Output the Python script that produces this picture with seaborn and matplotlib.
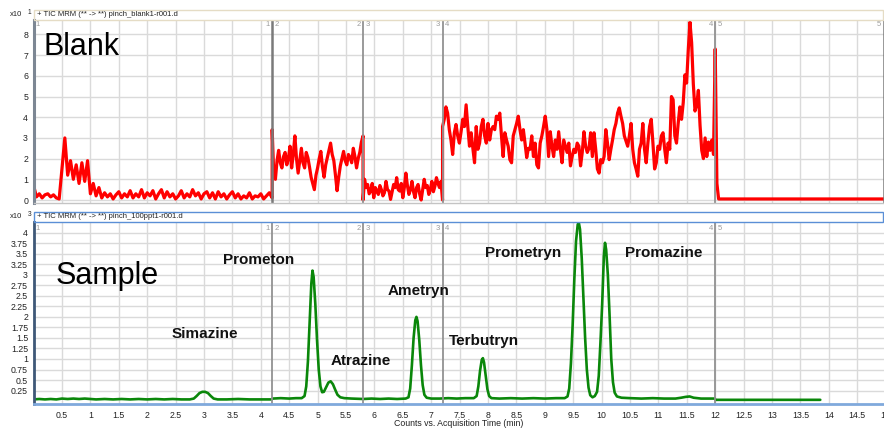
import numpy as np
import pandas as pd
import matplotlib
matplotlib.use("Agg")
import matplotlib.pyplot as plt
import seaborn as sns
from matplotlib.patches import Rectangle
from matplotlib.transforms import blended_transform_factory

# ---------------- data ----------------
# time-segment boundaries of the MRM method (min)
segment_edges = [0.0, 4.2, 5.8, 7.2, 12.0]

# blank injection TIC (x10^1 counts), one list per acquisition segment
blank_seg1 = [0.7, 0.15, 0.3, 0.1, 0.25, 0.3, 0.15, 0.25, 0.1, 0.05,
              1.5, 3.0, 1.2, 1.9, 1.0, 1.7, 0.8, 1.8, 0.9, 1.9,
              0.3, 0.8, 0.2, 0.6, 0.1, 0.35, 0.15, 0.3, 0.05, 0.25,
              0.4, 0.1, 0.3, 0.15, 0.45, 0.1, 0.3, 0.15, 0.5, 0.1,
              0.35, 0.2, 0.45, 0.05, 0.3, 0.5, 0.1, 0.4, 0.15, 0.3,
              0.05, 0.2, 0.45, 0.1, 0.3, 0.15, 0.5, 0.2, 0.35, 0.05,
              0.3, 0.4, 0.1, 0.35, 0.05, 0.4, 0.15, 0.3, 0.05, 0.25,
              0.4, 0.1, 0.3, 0.05, 0.2, 0.1, 0.35, 0.05, 0.2, 0.15,
              0.3, 0.05, 0.2, 0.35, 0.1]
blank_seg2 = [3.4, 1.2, 1.0, 1.9, 2.4, 1.8, 1.55, 2.1, 2.3, 1.7,
              2.0, 2.6, 1.55, 2.2, 3.1, 2.0, 1.3, 1.9, 2.5, 1.8,
              1.55, 2.3, 2.05, 1.6, 1.1, 0.8, 0.5, 1.2, 1.55, 2.0,
              2.35, 1.6, 1.1, 1.7, 2.05, 2.4, 2.75, 2.2, 1.9, 1.2,
              0.45, 1.1, 1.65, 2.0, 2.35, 1.9, 1.7, 2.2, 2.05, 1.8,
              2.5, 2.1, 1.55, 2.0, 2.3, 2.8, 3.1]
blank_seg3 = [0.0, 1.0, 0.6, 0.75, 0.3, 0.43, 0.8, 0.11, 0.6, 0.45,
              0.27, 0.7, 0.5, 0.2, 0.35, 0.9, 0.5, 0.43, 0.03, 0.4,
              0.75, 0.6, 1.08, 0.5, 0.43, 0.8, 0.11, 0.6, 1.3, 0.7,
              0.27, 0.5, 0.9, 0.4, 0.11, 0.6, 0.75, 0.3, 0.0, 0.5,
              1.0, 0.6, 0.7, 0.27, 0.5, 0.9, 0.4, 0.67, 1.08, 0.8,
              0.6, 0.9, 0.0]
blank_seg4 = [3.55, 3.9, 4.5, 4.2, 3.4, 2.9, 2.2, 3.25, 3.65, 3.1,
              2.75, 3.3, 3.9, 3.55, 4.6, 3.55, 2.6, 3.25, 2.5, 1.8,
              3.55, 2.45, 2.75, 3.55, 3.9, 3.1, 2.75, 3.7, 2.9, 3.4,
              3.55, 3.4, 4.05, 3.9, 4.2, 3.1, 2.1, 3.25, 2.9, 2.6,
              1.95, 1.8, 3.1, 3.4, 3.7, 4.05, 3.4, 2.9, 3.4, 2.75,
              2.05, 2.5, 2.45, 3.1, 2.1, 2.75, 1.7, 1.55, 2.75, 3.1,
              3.55, 4.05, 3.4, 2.1, 3.3, 2.6, 2.1, 2.9, 2.45, 3.3,
              2.45, 1.8, 2.9, 2.6, 2.3, 2.75, 1.65, 2.1, 2.45, 2.3,
              2.75, 2.6, 1.65, 2.3, 3.3, 2.6, 2.3, 2.5, 3.25, 2.1,
              3.25, 2.45, 1.5, 1.3, 1.95, 1.8, 2.1, 3.4, 2.75, 1.95,
              2.45, 2.9, 3.4, 3.7, 4.2, 4.45, 4.05, 3.7, 3.1, 2.85,
              2.6, 3.1, 3.7, 2.45, 1.8, 1.5, 1.15, 2.45, 2.75, 3.7,
              2.45, 1.8, 2.75, 3.55, 3.9, 2.75, 1.5, 1.8, 2.6, 2.45,
              3.1, 3.25, 2.45, 1.8, 2.75, 2.45, 5.0, 4.85, 3.1, 2.75,
              3.7, 4.5, 3.9, 4.7, 6.05, 5.65, 7.25, 8.6, 7.6, 5.6,
              4.3, 4.6, 5.3, 3.6, 2.4, 2.0, 3.0, 2.1, 2.8, 2.4,
              2.9, 2.2, 7.3]
blank_tail_time = [12.03, 12.06, 15.0]
blank_tail = [0.8, 0.05, 0.05]

# 100 ppt standard TIC (x10^3 counts)
sample_time = [0.00, 0.10, 0.20, 0.30, 0.40, 0.50, 0.60, 0.70, 0.80, 0.90,
               1.00, 1.10, 1.25, 1.40, 1.55, 1.70, 1.85, 2.00, 2.15, 2.30,
               2.45, 2.60, 2.75, 2.82, 2.87, 2.92, 2.97, 3.02, 3.07, 3.12,
               3.17, 3.24, 3.40, 3.60, 3.80, 4.00, 4.19, 4.21, 4.35, 4.50,
               4.62, 4.72, 4.77, 4.80, 4.83, 4.86, 4.89, 4.91, 4.93, 4.96,
               4.99, 5.02, 5.05, 5.08, 5.11, 5.15, 5.19, 5.23, 5.27, 5.31,
               5.35, 5.40, 5.47, 5.60, 5.80, 5.95, 6.10, 6.25, 6.40, 6.55,
               6.60, 6.63, 6.66, 6.69, 6.72, 6.74, 6.76, 6.79, 6.82, 6.85,
               6.88, 6.92, 7.00, 7.15, 7.30, 7.45, 7.60, 7.75, 7.80, 7.83,
               7.86, 7.89, 7.91, 7.93, 7.96, 7.99, 8.02, 8.06, 8.20, 8.40,
               8.60, 8.80, 9.00, 9.20, 9.35, 9.40, 9.43, 9.46, 9.49, 9.52,
               9.55, 9.58, 9.60, 9.62, 9.65, 9.68, 9.71, 9.74, 9.77, 9.80,
               9.84, 9.88, 9.92, 9.95, 9.98, 10.01, 10.04, 10.06, 10.08, 10.11,
               10.14, 10.17, 10.20, 10.23, 10.27, 10.35, 10.50, 10.70, 10.90, 11.10,
               11.30, 11.40, 11.48, 11.55, 11.62, 11.75, 11.90, 11.99, 12.01, 13.85]
sample_counts = [0.04, 0.05, 0.04, 0.05, 0.04, 0.06, 0.05, 0.06, 0.05, 0.06,
                 0.05, 0.04, 0.05, 0.04, 0.05, 0.04, 0.05, 0.04, 0.05, 0.04,
                 0.05, 0.04, 0.04, 0.06, 0.12, 0.19, 0.22, 0.22, 0.19, 0.12,
                 0.06, 0.04, 0.04, 0.05, 0.04, 0.04, 0.04, 0.06, 0.07, 0.06,
                 0.07, 0.07, 0.12, 0.35, 0.95, 1.90, 2.80, 3.10, 2.95, 2.30,
                 1.45, 0.75, 0.35, 0.21, 0.22, 0.33, 0.44, 0.47, 0.40, 0.27,
                 0.15, 0.09, 0.07, 0.06, 0.05, 0.06, 0.05, 0.06, 0.05, 0.06,
                 0.09, 0.30, 0.85, 1.50, 1.92, 2.00, 1.90, 1.45, 0.85, 0.38,
                 0.15, 0.08, 0.06, 0.06, 0.07, 0.06, 0.07, 0.07, 0.12, 0.35,
                 0.72, 0.98, 1.02, 0.92, 0.60, 0.28, 0.12, 0.07, 0.06, 0.07,
                 0.06, 0.07, 0.06, 0.07, 0.07, 0.11, 0.30, 0.90, 1.80, 2.90,
                 3.80, 4.20, 4.23, 4.08, 3.40, 2.45, 1.50, 0.75, 0.32, 0.14,
                 0.09, 0.12, 0.22, 0.60, 1.40, 2.30, 3.45, 3.76, 3.60, 3.00,
                 2.05, 1.00, 0.45, 0.20, 0.11, 0.08, 0.07, 0.06, 0.07, 0.06,
                 0.06, 0.08, 0.10, 0.11, 0.08, 0.06, 0.06, 0.06, 0.03, 0.03]

peak_names = ["Simazine", "Prometon", "Atrazine", "Ametryn",
              "Terbutryn", "Prometryn", "Promazine"]
peak_label_x = [3.02, 3.97, 5.76, 6.77, 7.92, 8.62, 11.10]
peak_label_y = [1.59, 3.35, 0.96, 2.62, 1.43, 3.51, 3.51]

top_yticks = [0, 1, 2, 3, 4, 5, 6, 7, 8]
bottom_yticks = [0.25, 0.5, 0.75, 1, 1.25, 1.5, 1.75, 2, 2.25, 2.5,
                 2.75, 3, 3.25, 3.5, 3.75, 4]

# ---------------- assemble traces ----------------
blank_parts_t, blank_parts_v = [], []
for seg, (t0, t1) in zip([blank_seg1, blank_seg2, blank_seg3, blank_seg4],
                         zip(segment_edges[:-1], segment_edges[1:])):
    blank_parts_t.append(np.linspace(t0, t1, len(seg)))
    blank_parts_v.append(np.asarray(seg, float))
blank_parts_t.append(np.asarray(blank_tail_time))
blank_parts_v.append(np.asarray(blank_tail))
blank_df = pd.DataFrame({"time": np.concatenate(blank_parts_t),
                         "counts": np.concatenate(blank_parts_v)})
sample_df = pd.DataFrame({"time": sample_time, "counts": sample_counts})

# ---------------- figure ----------------
sns.set_style("white")
plt.rcParams["font.family"] = ["Liberation Sans", "DejaVu Sans"]

W, H = 884, 429
fig = plt.figure(figsize=(W / 100, H / 100), dpi=100)


def fx(px):
    return px / W


def fy(py):
    return 1 - py / H


x_left, x15 = 33.6, 885.6
ax_top = fig.add_axes([fx(x_left), fy(203), fx(x15 - x_left), (203 - 20) / H])
ax_bot = fig.add_axes([fx(x_left), fy(404), fx(x15 - x_left), (404 - 222) / H])

sns.lineplot(data=blank_df, x="time", y="counts", ax=ax_top, color="#ff0000",
             lw=2.3, estimator=None, sort=False)
sns.lineplot(data=sample_df, x="time", y="counts", ax=ax_bot, color="#0a870a",
             lw=1.9, estimator=None, sort=False)

xt = np.arange(0.5, 15.01, 0.5)
for ax in (ax_top, ax_bot):
    ax.set_xlim(0, 15)
    ax.set_xticks(xt)
    ax.grid(True, color="#dadada", lw=1.0)
    ax.set_axisbelow(True)
    ax.set_xlabel("")
    ax.set_ylabel("")
    ax.spines["top"].set_visible(False)
    ax.spines["right"].set_visible(False)
    ax.tick_params(axis="y", length=3, width=1.4, color="#222222",
                   labelsize=6.3, pad=1, labelcolor="#222222")

ax_top.set_ylim(-0.145, 8.70)
ax_top.set_yticks(top_yticks)
ax_top.set_yticklabels([f"{v:g}" for v in top_yticks])
ax_top.tick_params(axis="x", length=0, labelbottom=False)
ax_top.spines["left"].set_color("#7d8794")
ax_top.spines["left"].set_linewidth(2.2)
ax_top.spines["bottom"].set_color("#c4c4c4")
ax_top.spines["bottom"].set_linewidth(1.0)

ax_bot.set_ylim(-0.069, 4.254)
ax_bot.set_yticks(bottom_yticks)
ax_bot.set_yticklabels([f"{v:g}" for v in bottom_yticks])
ax_bot.set_xticklabels([f"{v:g}" for v in xt])
ax_bot.tick_params(axis="x", length=3, width=1.2, color="#222222",
                   labelsize=6.3, pad=2, labelcolor="#222222")
ax_bot.spines["left"].set_color("#3f5878")
ax_bot.spines["left"].set_linewidth(2.0)
ax_bot.spines["bottom"].set_color("#80a9dc")
ax_bot.spines["bottom"].set_linewidth(2.0)
fig.text(fx(459), fy(423), "Counts vs. Acquisition Time (min)", fontsize=6.3,
         ha="center", va="center", color="#222222")

# segment boundaries with their numbering
for ax, ylab in ((ax_top, 0.973), (ax_bot, 0.962)):
    trans = blended_transform_factory(ax.transData, ax.transAxes)
    for i, b in enumerate(segment_edges[1:], start=1):
        ax.axvline(b, color="#7a7a7a" if (ax is ax_top and i == 1) else "#929292",
                   lw=1.8 if (ax is ax_top and i == 1) else 1.3, zorder=2.5)
        ax.text(b - 0.04, ylab, str(i), transform=trans, ha="right", va="center",
                fontsize=5.5, color="#9a9a9a")
        ax.text(b + 0.04, ylab, str(i + 1), transform=trans, ha="left", va="center",
                fontsize=5.5, color="#9a9a9a")
    ax.text(0.04, ylab, "1", transform=trans, ha="left", va="center",
            fontsize=5.5, color="#9a9a9a")

trans_top = blended_transform_factory(ax_top.transData, ax_top.transAxes)
ax_top.axvline(14.965, color="#7a7a7a", lw=1.8)
ax_top.text(14.92, 0.973, "5", transform=trans_top, ha="right", va="center",
            fontsize=5.5, color="#9a9a9a")

# panel titles
ax_top.text(0.17, 7.0, "Blank", fontsize=22, ha="left", va="baseline", color="black")
ax_bot.text(0.38, 2.78, "Sample", fontsize=22, ha="left", va="baseline", color="black")

for name, lx, ly in zip(peak_names, peak_label_x, peak_label_y):
    ax_bot.text(lx, ly, name, fontsize=11, fontweight="bold", ha="center",
                va="center", color="#111111")

# header strips above each panel
fig.patches.append(Rectangle((fx(x_left), fy(20)), fx(884 - x_left - 1), 10 / H,
                             transform=fig.transFigure, fill=False,
                             edgecolor="#e5dcc5", lw=1.0))
fig.patches.append(Rectangle((fx(x_left), fy(222)), fx(884 - x_left - 1), 10.3 / H,
                             transform=fig.transFigure, fill=False,
                             edgecolor="#5b8fd6", lw=1.0))
fig.text(fx(37), fy(14), "+ TIC MRM (** -> **) pinch_blank1-r001.d",
         fontsize=5.5, ha="left", va="center", color="#222222")
fig.text(fx(37), fy(216), "+ TIC MRM (** -> **) pinch_100ppt1-r001.d",
         fontsize=5.5, ha="left", va="center", color="#222222")
for ybase, exp in ((14, "1"), (216, "3")):
    fig.text(fx(10), fy(ybase), "x10", fontsize=5.5, ha="left", va="center",
             color="#222222")
    fig.text(fx(28), fy(ybase - 2), exp, fontsize=4.8, ha="left", va="center",
             color="#222222")

fig.savefig("out.png", dpi=100)
